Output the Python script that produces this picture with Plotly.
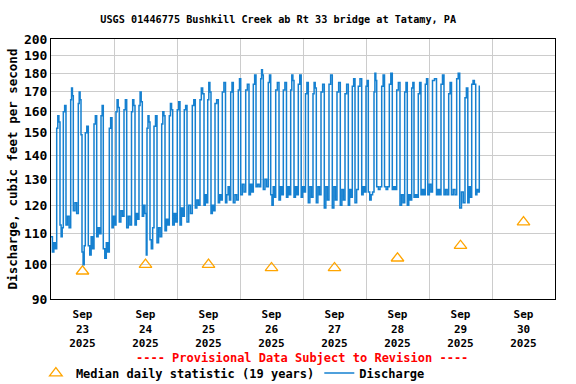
import datetime as dt
import plotly.graph_objects as go

# ---- data ----
start_time = dt.datetime(2025, 9, 23, 0, 0)
# discharge: plateau start (hours after Sep 23 00:00) and the 15-min-ish values seen in it
seg_start_h = [
    0.0, 2.17, 3.43, 4.69, 5.71, 7.50, 8.50, 10.40, 11.43, 11.81, 13.07, 14.21, 16.38, 17.41,
    19.05, 19.92, 22.21, 23.24, 24.76, 26.02, 27.81, 28.84, 30.67, 32.0, 33.52, 34.78, 36.30,
    36.57, 37.71, 39.24, 40.38, 42.17, 43.43, 45.07, 46.36, 48.11, 49.14, 50.78, 51.81, 53.83,
    54.97, 56.76, 58.29, 59.70, 60.95, 62.48, 63.73, 65.26, 66.48, 68.46, 69.45, 71.35, 72.27,
    74.17, 75.43, 77.07, 78.10, 79.89, 80.88, 82.78, 83.70, 85.60, 86.86, 88.50, 89.71, 91.31,
    92.57, 94.21, 95.31, 96.95, 98.02, 99.81, 101.07, 102.86, 104.11, 105.90, 107.16, 108.95,
    110.21, 112.0, 113.26, 114.78, 115.81, 117.07, 118.36, 120.0, 120.88, 123.05, 124.08,
    125.98, 127.05, 128.88, 130.02, 131.70, 132.95, 134.74, 135.73, 137.41, 138.29, 139.92,
    140.95, 142.59, 143.54, 145.33, 146.86, 148.57, 149.71, 151.50, 152.57, 154.55, 155.70,
    157.71, 158.78, 160.27, 161.79, 163.16,
]
seg_values = [
    [109, 104, 107, 105], [152, 158, 155], [113, 109, 112], [160, 163], [113, 116, 112],
    [166, 172, 168], [118, 121, 117], [164, 170, 166], [149], [104, 100, 106], [150, 153],
    [106, 103, 109, 105], [154, 158], [109, 112, 110], [158, 163], [105, 102, 107, 104],
    [152, 157], [112, 116, 113], [160, 166, 162], [114, 118, 116], [161, 166], [112, 116, 113],
    [160, 166, 163], [113, 117, 115], [163, 170, 165], [116, 120, 117], [103], [152, 158, 155],
    [108, 105, 112], [153, 158], [107, 112, 109], [154, 160, 158], [111, 115, 113],
    [158, 164, 161], [113, 117, 114], [161, 165], [113, 119, 116], [161, 163], [114, 120, 117],
    [163, 166], [119, 122, 120], [166, 172, 169], [120, 124, 121], [166, 175, 170],
    [117, 120, 118], [164, 166], [121, 124, 122], [170, 175], [121, 124, 127, 122], [170, 175],
    [121, 124, 122], [171, 177], [124, 128, 125], [171, 174], [124, 128, 125], [174, 179],
    [127, 128, 127], [177, 182, 179], [126, 130, 127], [175, 179], [124, 120, 127, 123],
    [171, 175], [122, 127, 124], [171, 175], [123, 127, 124], [171, 179, 176], [123, 127, 124],
    [174, 179], [123, 127, 125], [169, 175], [121, 127, 123], [169, 175, 172], [121, 127, 124],
    [170, 174], [119, 127, 122], [174, 179], [119, 127, 122], [170, 175], [120, 126, 122],
    [169, 174], [120, 126, 123], [173, 177], [121, 126], [173, 177], [124, 127, 125],
    [173, 176], [125, 122, 124, 125], [170, 180, 176], [127, 126, 127], [173, 179],
    [127, 126, 127], [174, 180], [126, 127, 126], [171, 175], [120, 124, 121], [170, 175],
    [120, 124, 122], [172, 175], [123, 124, 123], [169, 175], [124, 126, 124], [174, 177],
    [124, 128, 125], [176, 177], [124, 126, 124], [174, 179], [124, 126, 124], [169, 175],
    [124, 126, 124], [177, 180], [119, 125, 121], [167, 172], [121, 127, 123], [174, 176, 174],
    [124, 126, 125], [173],
]
data_end_h = 163.43

median_days = ["2025-09-23 12:00", "2025-09-24 12:00", "2025-09-25 12:00", "2025-09-26 12:00",
               "2025-09-27 12:00", "2025-09-28 12:00", "2025-09-29 12:00", "2025-09-30 12:00"]
median_values = [98, 100, 100, 99, 99, 102, 106, 114]

y_ticks = [90, 100, 110, 120, 130, 140, 150, 160, 170, 180, 190, 200]

# ---- expand plateaus into step samples ----
times, flows = [], []
for i, (s, vals) in enumerate(zip(seg_start_h, seg_values)):
    e = seg_start_h[i + 1] if i + 1 < len(seg_start_h) else data_end_h
    n = len(vals)
    for k, v in enumerate(vals):
        times.append(start_time + dt.timedelta(hours=s + k * (e - s) / n))
        flows.append(v)
times.append(start_time + dt.timedelta(hours=data_end_h))
flows.append(seg_values[-1][-1])

FONT = "DejaVu Sans Mono"
fig = go.Figure()
fig.add_trace(go.Scatter(
    x=median_days, y=median_values, mode="markers",
    marker=dict(symbol="triangle-up-open", size=11, color="#FFA500", line=dict(width=1.3)),
    name="<b>Median daily statistic (19 years)</b>",
))
fig.add_trace(go.Scatter(
    x=times, y=flows, mode="lines", line=dict(color="#1580d0", width=1.5, shape="hv"),
    name="<b>Discharge</b>",
))

fig.update_layout(
    width=576, height=384,
    margin=dict(l=51, r=21, t=39, b=85, autoexpand=False),
    paper_bgcolor="white", plot_bgcolor="white",
    font=dict(family=FONT, size=12, color="black"),
    title=dict(text="<b>USGS 01446775 Bushkill Creek ab Rt 33 bridge at Tatamy, PA</b>",
               x=0.483, xanchor="center", y=0.95, yanchor="middle",
               font=dict(family=FONT, size=10.2)),
    showlegend=True,
    legend=dict(orientation="h", x=-0.03, xanchor="left", y=-0.285, yanchor="middle",
                font=dict(family=FONT, size=12), itemwidth=30, tracegroupgap=0,
                bgcolor="rgba(0,0,0,0)"),
    annotations=[dict(text="<b>---- Provisional Data Subject to Revision ----</b>",
                      xref="paper", yref="paper", x=0.498, y=-0.228, showarrow=False,
                      xanchor="center", yanchor="middle",
                      font=dict(family=FONT, size=12, color="red"))],
)
fig.update_xaxes(
    type="date", range=["2025-09-23 00:00", "2025-10-01 00:00"],
    tick0="2025-09-23", dtick=86400000, ticklabelmode="period",
    tickformat="<b>%b</b><br><b>%d</b><br><b>%Y</b>",
    showgrid=True, gridcolor="#cccccc", gridwidth=1,
    showline=True, linecolor="black", linewidth=1, mirror=True,
    ticks="outside", ticklen=5, tickcolor="rgba(0,0,0,0)",
    tickfont=dict(family=FONT, size=11), automargin=False,
)
fig.update_yaxes(
    type="log", range=[1.95424, 2.30103],
    tickvals=y_ticks, ticktext=[f"<b>{v}</b>" for v in y_ticks],
    showgrid=True, gridcolor="#cccccc", gridwidth=1,
    showline=True, linecolor="black", linewidth=1, mirror=True, ticks="",
    tickfont=dict(family=FONT, size=13), automargin=False,
    title=dict(text="<b>Discharge, cubic feet per second</b>", font=dict(family=FONT, size=12.5),
               standoff=3),
)

fig.write_html("out.html", config={"displayModeBar": False},
               post_script="document.body.style.margin='0';document.body.style.overflow='hidden';")
